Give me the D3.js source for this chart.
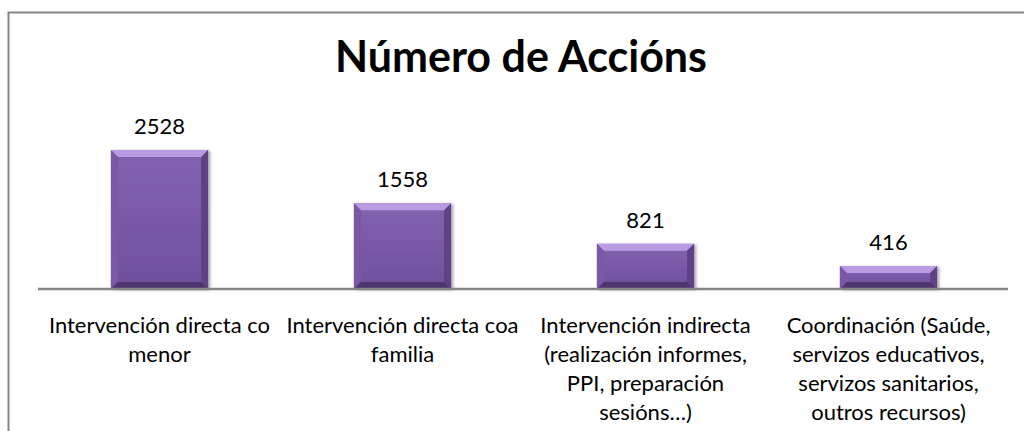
<!DOCTYPE html>
<html>
<head>
<meta charset="utf-8">
<script src="https://cdnjs.cloudflare.com/ajax/libs/d3/7.8.5/d3.min.js"></script>
<style>
    body { margin: 0; background: #fff; }
    svg { display: block; font-family: Lato, "Open Sans", sans-serif; }
</style>
</head>
<body>
<div id="chart"></div>
<script>
// data
const title = "Número de Accións";
const categories = [
    "Intervención directa co menor",
    "Intervención directa coa familia",
    "Intervención indirecta (realización informes, PPI, preparación sesións…)",
    "Coordinación (Saúde, servizos educativos, servizos sanitarios, outros recursos)"
];
const values = [2528, 1558, 821, 416];

const width = 1024, height = 431;
const margin = {top: 124, right: 14, bottom: 142, left: 38};
const innerW = width - margin.left - margin.right;
const innerH = height - margin.top - margin.bottom;

const svg = d3.select("#chart").append("svg")
    .attr("width", width)
    .attr("height", height);

// chart frame
svg.append("rect")
    .attr("x", 8.5).attr("y", 12.5)
    .attr("width", 1100).attr("height", 600)
    .attr("fill", "none")
    .attr("stroke", "#868686")
    .attr("stroke-width", 2);

svg.append("text")
    .attr("x", 521).attr("y", 72)
    .attr("text-anchor", "middle")
    .style("font-size", "43px")
    .style("font-weight", "bold")
    .text(title);

const g = svg.append("g")
    .attr("transform", "translate(" + margin.left + "," + margin.top + ")");

const x = d3.scaleBand()
    .domain(categories)
    .range([0, innerW])
    .paddingInner(0.6)
    .paddingOuter(0.3);

const y = d3.scaleLinear()
    .domain([0, 3000])
    .range([innerH, 0]);

// shadow filter
const defs = svg.append("defs");
const f = defs.append("filter").attr("id", "shadow")
    .attr("x", "-20%").attr("y", "-20%").attr("width", "140%").attr("height", "140%");
f.append("feDropShadow")
    .attr("dx", 2).attr("dy", 1).attr("stdDeviation", 1.5)
    .attr("flood-color", "#000").attr("flood-opacity", 0.35);

const grad = defs.append("linearGradient").attr("id", "face")
    .attr("x1", 0).attr("y1", 0).attr("x2", 0).attr("y2", 1);
grad.append("stop").attr("offset", "0%").attr("stop-color", "#8462b0");
grad.append("stop").attr("offset", "100%").attr("stop-color", "#6f4f9c");

const bars = g.selectAll(".bar")
    .data(values)
    .enter().append("g")
    .attr("class", "bar")
    .attr("filter", "url(#shadow)");

const bev = 7;
bars.each(function(d, i) {
    let bx = x(categories[i]), bw = x.bandwidth();
    let by = y(d), bh = innerH - y(d);
    let b = Math.min(bev, bh / 3);
    let sel = d3.select(this);
    sel.append("rect")
        .attr("x", bx).attr("y", by)
        .attr("width", bw).attr("height", bh)
        .attr("fill", "url(#face)");
    // top bevel
    sel.append("path")
        .attr("d", `M${bx},${by}L${bx + bw},${by}L${bx + bw - b},${by + b}L${bx + b},${by + b}Z`)
        .attr("fill", "#b99be4");
    // left bevel
    sel.append("path")
        .attr("d", `M${bx},${by}L${bx + b},${by + b}L${bx + b},${by + bh - b}L${bx},${by + bh}Z`)
        .attr("fill", "#7a58a6");
    // right bevel
    sel.append("path")
        .attr("d", `M${bx + bw},${by}L${bx + bw - b},${by + b}L${bx + bw - b},${by + bh - b}L${bx + bw},${by + bh}Z`)
        .attr("fill", "#5e4286");
    // bottom bevel
    sel.append("path")
        .attr("d", `M${bx},${by + bh}L${bx + b},${by + bh - b}L${bx + bw - b},${by + bh - b}L${bx + bw},${by + bh}Z`)
        .attr("fill", "#4f366f");
});

// value labels
g.selectAll(".val")
    .data(values)
    .enter().append("text")
    .attr("class", "val")
    .attr("x", (d, i) => x(categories[i]) + x.bandwidth() / 2)
    .attr("y", d => y(d) - 16)
    .attr("text-anchor", "middle")
    .style("font-size", "22px")
    .text(d => d);

// axis
const xAxis = d3.axisBottom(x).tickSize(0).tickPadding(0);
const ax = g.append("g")
    .attr("class", "x-axis")
    .attr("transform", "translate(0," + innerH + ")")
    .call(xAxis);
ax.select(".domain").attr("stroke", "#868686").attr("stroke-width", 2.5).attr("d", "M0,0H" + (innerW - 2));
ax.selectAll(".tick text")
    .attr("dy", null)
    .style("font-size", "22px")
    .style("font-family", "Lato, 'Open Sans', sans-serif")
    .attr("fill", "#000")
    .call(wrap, 238);

function wrap(texts, w) {
    texts.each(function() {
        let text = d3.select(this);
        let words = text.text().split(/\s+/);
        text.text(null);
        let line = [];
        let lineNo = 0;
        let tspan = text.append("tspan").attr("x", 0).attr("y", 44);
        words.forEach(word => {
            line.push(word);
            tspan.text(line.join(" "));
            if (tspan.node().getComputedTextLength() > w && line.length > 1) {
                line.pop();
                tspan.text(line.join(" "));
                line = [word];
                lineNo++;
                tspan = text.append("tspan").attr("x", 0).attr("y", 44 + lineNo * 29).text(word);
            }
        });
    });
}
</script>
</body>
</html>
